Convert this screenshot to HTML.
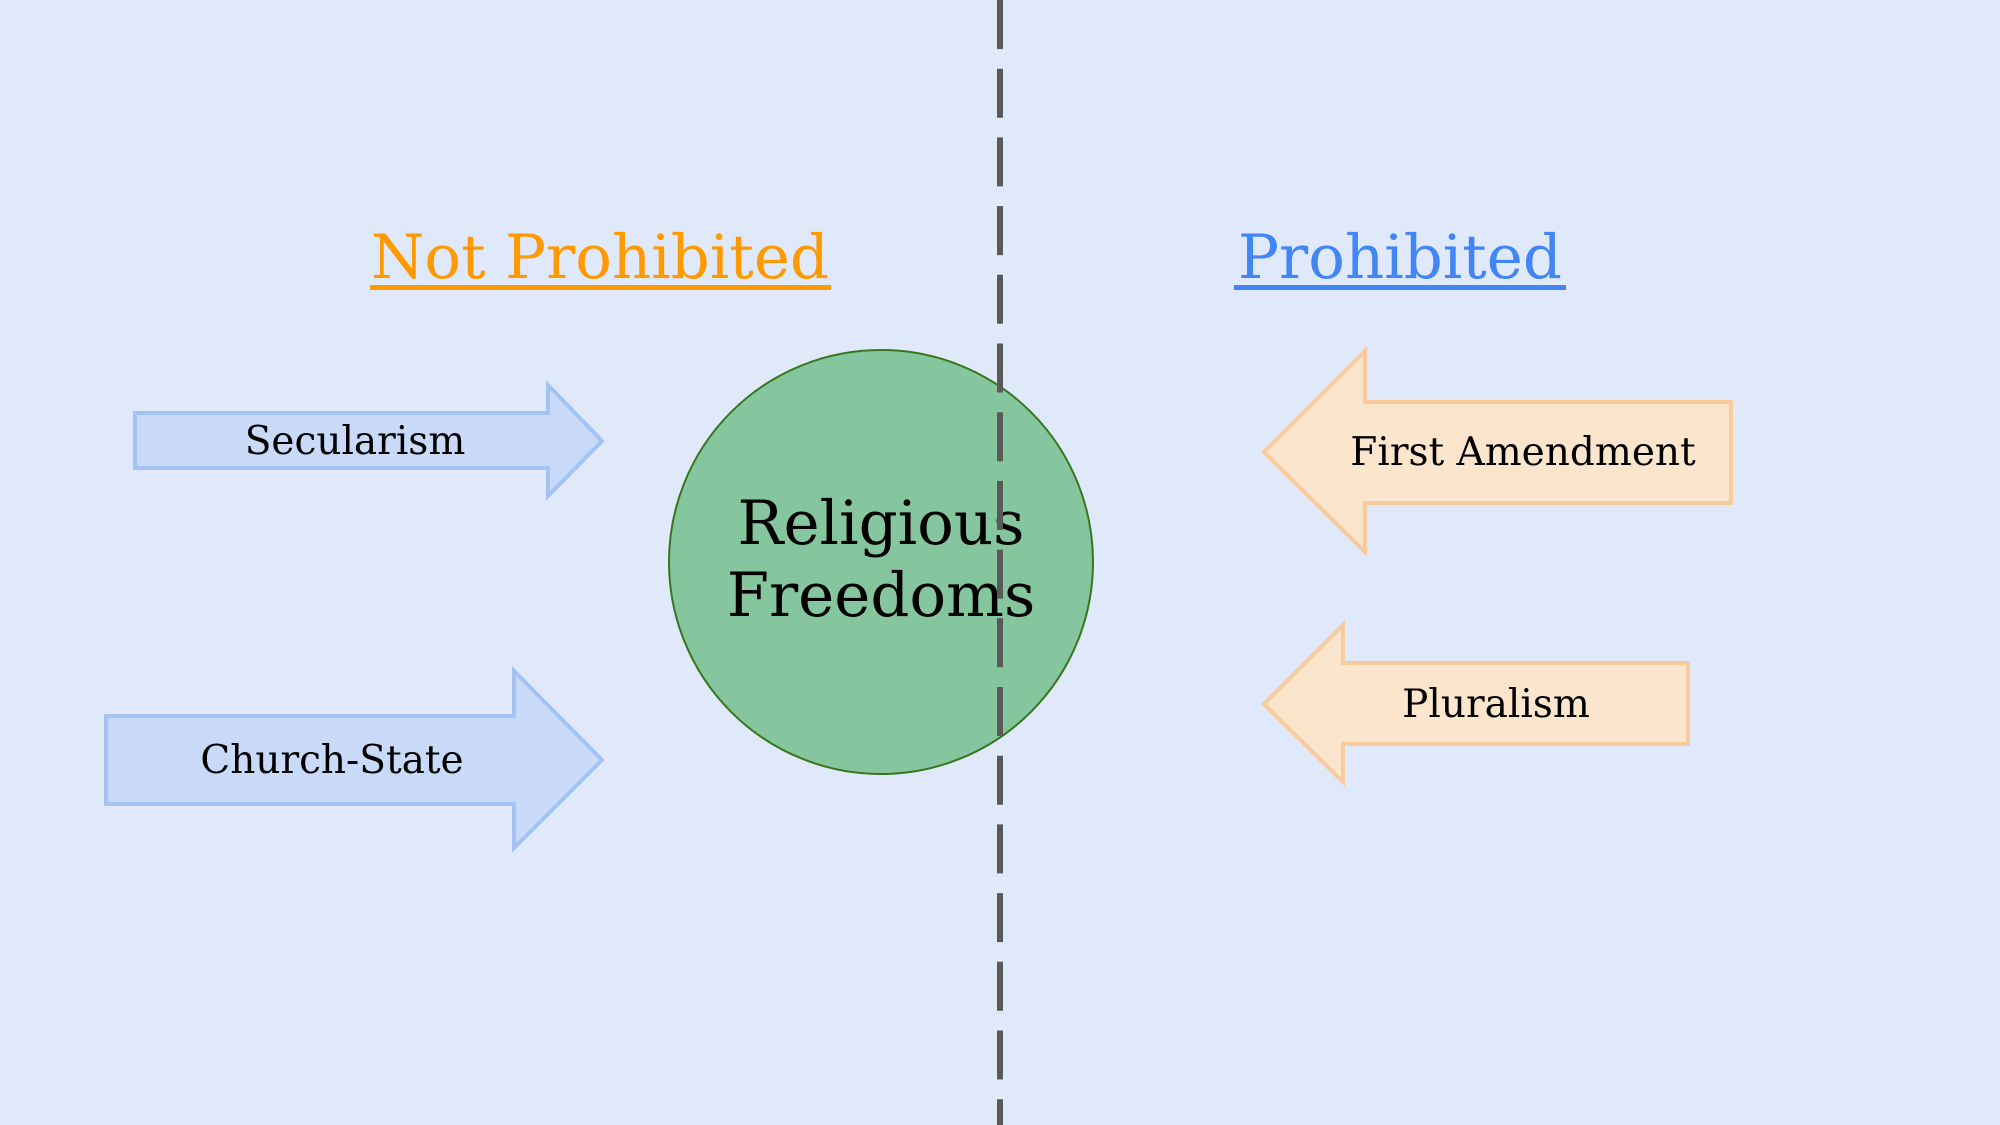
<!DOCTYPE html>
<html><head><meta charset="utf-8"><style>
html,body{margin:0;padding:0;background:#e0e9fa;}
svg{display:block;}
text{font-family:"DejaVu Serif","Liberation Serif",serif;}
</style></head><body>
<svg width="2000" height="1125" viewBox="0 0 2000 1125" xmlns="http://www.w3.org/2000/svg">
<rect width="2000" height="1125" fill="#e0e9fa"/>
<text x="600" y="278" font-size="61" fill="#ff9900" text-anchor="middle">Not Prohibited</text>
<rect x="370" y="285" width="461" height="5" fill="#ff9900"/>
<text x="1400" y="278" font-size="61" fill="#4285f4" text-anchor="middle">Prohibited</text>
<rect x="1234" y="285" width="332" height="5" fill="#4285f4"/>
<circle cx="881" cy="562" r="212" fill="#86c69f" stroke="#38761d" stroke-width="2"/>
<text x="881" y="544" font-size="61" fill="#000" text-anchor="middle">Religious</text>
<text x="881" y="616" font-size="61" fill="#000" text-anchor="middle">Freedoms</text>
<line x1="1000" y1="0" x2="1000" y2="1125" stroke="#595959" stroke-width="6" stroke-dasharray="49 19.7"/>
<polygon points="135,413 548,413 548,385 602,441 548,496 548,468 135,468" fill="#c9daf8" stroke="#a4c2f4" stroke-width="4"/>
<text x="355" y="454" font-size="39" text-anchor="middle">Secularism</text>
<polygon points="106,716 514,716 514,671 602,760 514,848 514,804 106,804" fill="#c9daf8" stroke="#a4c2f4" stroke-width="4"/>
<text x="332" y="773" font-size="39" text-anchor="middle">Church-State</text>
<polygon points="1731,402 1365,402 1365,351 1264,452 1365,552 1365,503 1731,503" fill="#fce5cd" stroke="#f9cb9c" stroke-width="4"/>
<text x="1523" y="465" font-size="39" text-anchor="middle">First Amendment</text>
<polygon points="1688,663 1343,663 1343,625 1264,704 1343,782 1343,744 1688,744" fill="#fce5cd" stroke="#f9cb9c" stroke-width="4"/>
<text x="1496" y="717" font-size="39" text-anchor="middle">Pluralism</text>
</svg>
</body></html>
